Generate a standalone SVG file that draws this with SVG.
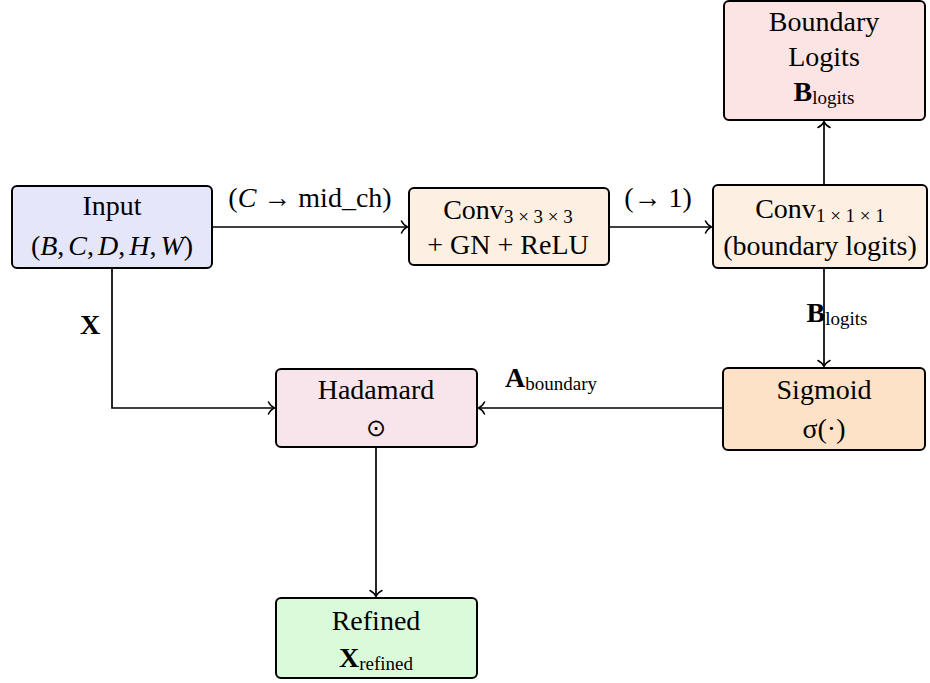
<svg xmlns="http://www.w3.org/2000/svg" width="930" height="683" viewBox="0 0 930 683">
  <style>
    .box { stroke: #000; stroke-width: 2; }
    .t { font-family: "Liberation Serif", "Times New Roman", serif; font-size: 28px; fill: #000; text-anchor: middle; }
    .i { font-style: italic; }
    .b { font-weight: bold; }
    .sub { font-size: 19px; font-weight: normal; font-style: normal; }
    .edge { fill: none; stroke: #000; stroke-width: 1.7; }
  </style>
  <defs>
    <marker id="to" viewBox="-7 -7 9 14" markerWidth="9" markerHeight="14" refX="0" refY="0" orient="auto" markerUnits="userSpaceOnUse">
      <path d="M-5.5,-6 C-3.5,-2.2 -0.8,-0.5 0.6,0 C-0.8,0.5 -3.5,2.2 -5.5,6" fill="none" stroke="#000" stroke-width="1.6" stroke-linecap="round"/>
    </marker>
  </defs>

  <rect width="930" height="683" fill="#fff"/>

  <!-- connectors and their labels -->
  <g id="connectors">
    <path class="edge" d="M212,227 H407" marker-end="url(#to)"/>
    <text class="t" x="310" y="207">(<tspan class="i">C</tspan> → mid_ch)</text>
    <path class="edge" d="M609,227 H711" marker-end="url(#to)"/>
    <text class="t" x="658" y="207">(→ 1)</text>
    <path class="edge" d="M824,185 V122" marker-end="url(#to)"/>
    <path class="edge" d="M824,268 V366" marker-end="url(#to)"/>
    <text class="t" x="837" y="322" text-anchor="start"><tspan class="b">B</tspan><tspan class="sub" dy="3">logits</tspan></text>
    <path class="edge" d="M723,408 H479" marker-end="url(#to)"/>
    <text class="t" x="551" y="387" text-anchor="start"><tspan class="b">A</tspan><tspan class="sub" dy="3">boundary</tspan></text>
    <path class="edge" d="M112,268 V408 H274" marker-end="url(#to)"/>
    <text class="t b" x="90" y="334">X</text>
    <path class="edge" d="M376,447 V596" marker-end="url(#to)"/>
  </g>

  <g id="input">
    <rect class="box" x="12" y="186" width="200" height="82" rx="5" fill="#e6e6fb"/>
    <text class="t" x="112" y="215">Input</text>
    <text class="t" x="112" y="255">(<tspan class="i">B</tspan>,<tspan class="i" dx="4">C</tspan>,<tspan class="i" dx="4">D</tspan>,<tspan class="i" dx="4">H</tspan>,<tspan class="i" dx="4">W</tspan>)</text>
  </g>

  <g id="conv3">
    <rect class="box" x="409" y="188" width="200" height="77" rx="5" fill="#fdf0e3"/>
    <text class="t" x="508" y="219">Conv<tspan class="sub" dy="4">3 × 3 × 3</tspan></text>
    <text class="t" x="508" y="254">+ GN + ReLU</text>
  </g>

  <g id="conv1">
    <rect class="box" x="713" y="185" width="214" height="83" rx="5" fill="#fdf0e3"/>
    <text class="t" x="820" y="218">Conv<tspan class="sub" dy="4">1 × 1 × 1</tspan></text>
    <text class="t" x="820" y="255">(boundary logits)</text>
  </g>

  <g id="boundary-logits">
    <rect class="box" x="724" y="1" width="201" height="119" rx="5" fill="#fde4e4"/>
    <text class="t" x="824" y="31">Boundary</text>
    <text class="t" x="824" y="66">Logits</text>
    <text class="t" x="824" y="101"><tspan class="b">B</tspan><tspan class="sub" dy="3">logits</tspan></text>
  </g>

  <g id="hadamard">
    <rect class="box" x="276" y="369" width="201" height="78" rx="5" fill="#f8e5ec"/>
    <text class="t" x="376" y="399">Hadamard</text>
    <text class="t" x="376" y="436" style="font-size:24px">⊙</text>
  </g>

  <g id="sigmoid">
    <rect class="box" x="723" y="368" width="202" height="82" rx="5" fill="#fde2c7"/>
    <text class="t" x="824" y="399">Sigmoid</text>
    <text class="t" x="824" y="438">σ(·)</text>
  </g>

  <g id="refined">
    <rect class="box" x="276" y="598" width="201" height="80" rx="5" fill="#dafbda"/>
    <text class="t" x="376" y="630">Refined</text>
    <text class="t" x="376" y="667"><tspan class="b">X</tspan><tspan class="sub" dy="3">refined</tspan></text>
  </g>
</svg>
